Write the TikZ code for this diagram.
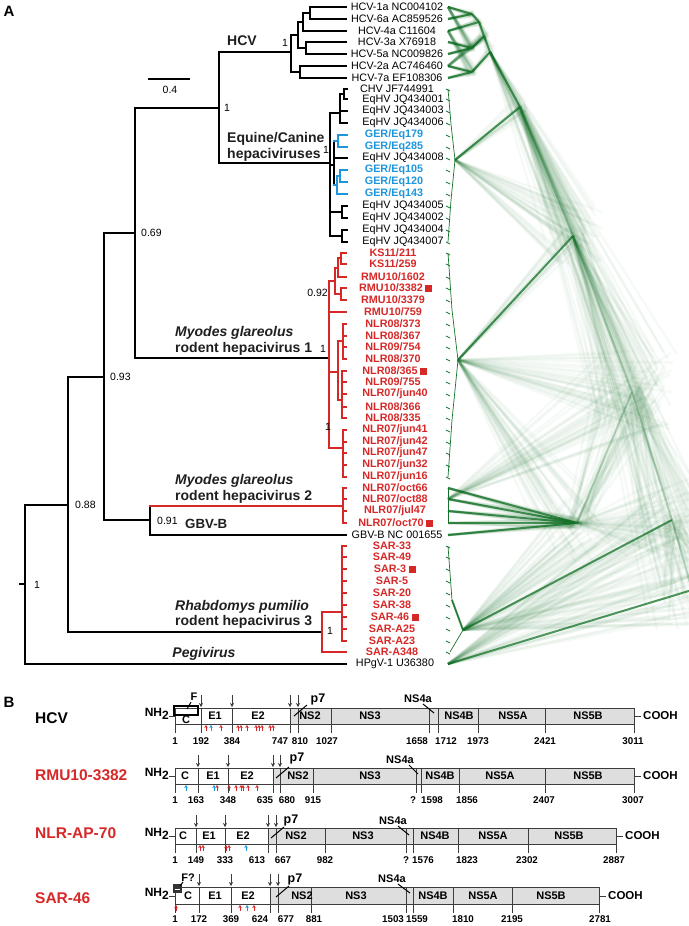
\documentclass[tikz,border=0pt]{standalone}
\usepackage{fontspec}
\setmainfont{Liberation Sans}
\usetikzlibrary{calc,arrows.meta}
\definecolor{hred}{RGB}{215,40,40}
\definecolor{hblue}{RGB}{30,150,220}
\definecolor{hgreen}{RGB}{20,115,40}
\definecolor{boxgray}{RGB}{222,222,222}
\definecolor{lgray}{RGB}{60,60,60}
\newcommand\fs[1]{\fontsize{#1}{#1}\selectfont}
\newcommand\gedge[3]{\draw[gmain] (#1)--(#2);\foreach \k in {1,...,16}{\pgfmathsetmacro\ja{#3*rand}\pgfmathsetmacro\jb{#3*rand}\draw[gfuzz] (#1)--($(#2)+(\ja,\jb)$);}}
\newcommand\gdeep[3]{\draw[gmain, opacity=0.3] (#1)--(#2);\foreach \k in {1,...,40}{\pgfmathsetmacro\ja{#3*rand}\pgfmathsetmacro\jb{#3*rand}\pgfmathsetmacro\jc{#3*0.3*rand}\pgfmathsetmacro\jd{#3*0.3*rand}\draw[gfuzz] ($(#1)+(\jc,\jd)$)--($(#2)+(\ja,\jb)$);}}
\newcommand\galt[3]{\foreach \k in {1,...,32}{\pgfmathsetmacro\ja{#3*rand}\pgfmathsetmacro\jb{#3*rand}\draw[gfuzz] (#1)--($(#2)+(\ja,\jb)$);}}
\tikzset{
 tb/.style={line width=1.8pt, line cap=rect, draw=black},
 tr/.style={line width=1.8pt, line cap=rect, draw=hred},
 tbl/.style={line width=1.8pt, line cap=rect, draw=hblue},
 gmain/.style={draw=hgreen, line width=2pt, opacity=0.75},
 gfuzz/.style={draw=hgreen, line width=2.4pt, opacity=0.035},
 gthin/.style={draw=hgreen, line width=0.7pt},
 tipk/.style={font=\fs{10.8}, text=black, inner sep=0},
 tipr/.style={font=\bfseries\fs{10.8}, text=hred, inner sep=0},
 tipb/.style={font=\bfseries\fs{10.8}, text=hblue, inner sep=0},
 sqr/.style={fill=hred, minimum size=7pt, inner sep=0, anchor=west},
 sup/.style={font=\fs{10.5}, inner sep=0},
 clab/.style={font=\bfseries\fs{14}, anchor=west, inner sep=0, text=black!88},
 clabi/.style={font=\bfseries\itshape\fs{14}, anchor=west, inner sep=0, text=black!88},
 panel/.style={font=\bfseries\fs{15}, inner sep=0},
 bx/.style={draw=lgray, line width=0.9pt},
 darr/.style={draw=lgray, line width=1pt, -{Stealth[length=4pt,width=4pt]}},
 rarr/.style={draw=hred, line width=0.8pt, -{Stealth[length=3pt,width=3.5pt]}},
 barr/.style={draw=hblue, line width=0.8pt, -{Stealth[length=3pt,width=3.5pt]}},
 num/.style={font=\bfseries\fs{9.8}, inner sep=0},
 seg/.style={font=\bfseries\fs{11}, inner sep=0},
 rowlab/.style={font=\bfseries\fs{15.5}, anchor=west, inner sep=0},
 nh/.style={font=\bfseries\fs{12}, anchor=east, inner sep=0},
 cooh/.style={font=\bfseries\fs{11.5}, anchor=west, inner sep=0},
}
\begin{document}
\begin{tikzpicture}[x=1pt,y=-1pt]
\useasboundingbox (0,0) rectangle (688,926);
\fill[white] (0,0) rectangle (688,926);
\pgfmathsetseed{7}
% ---------------- green cloud ----------------
\coordinate (c1) at (448,7); \coordinate (c2) at (448,19); \coordinate (c3) at (448,31);
\coordinate (c4) at (448,42); \coordinate (c5) at (448,54); \coordinate (c6) at (448,66);
\coordinate (c7) at (448,78);
\coordinate (h16) at (472,14); \coordinate (h164) at (479,22); \coordinate (h35) at (472,48);
\coordinate (h27) at (472,72); \coordinate (hA) at (484,36); \coordinate (hR) at (490,52);
\coordinate (eq) at (455,160); \coordinate (m1) at (458,360);
\coordinate (t42) at (448,488); \coordinate (t43) at (448,499); \coordinate (t44) at (448,511); \coordinate (t45) at (448,523);
\coordinate (gb) at (448,535); \coordinate (sar) at (463,630); \coordinate (hp) at (448,664);
\coordinate (e1) at (520,107); \coordinate (e2) at (573,236); \coordinate (g) at (577,523);
\coordinate (e3) at (632,392); \coordinate (e4) at (672,520); \coordinate (rt) at (692,590);
\gedge{c1}{h16}{3}\gedge{c2}{h16}{3}\gedge{c3}{h164}{3}\gedge{c4}{h35}{3}\gedge{c5}{h35}{3}
\gedge{c6}{h27}{3}\gedge{c7}{h27}{3}
\gedge{h16}{h164}{4}\gedge{h164}{hA}{5}\gedge{h35}{hA}{5}\gedge{hA}{hR}{5}\gedge{h27}{hR}{5}
\galt{c1}{h35}{4}\galt{c6}{hA}{4}\galt{c3}{h27}{5}
\gedge{hR}{e1}{8}\gedge{eq}{e1}{8}
\gdeep{e1}{e2}{16}\gedge{m1}{e2}{10}
\gedge{t42}{g}{6}\gedge{t43}{g}{6}\gedge{t44}{g}{6}\gedge{t45}{g}{6}\gedge{gb}{g}{6}
\gdeep{e2}{e3}{34}\gdeep{g}{e3}{34}
\gdeep{e3}{e4}{34}\gedge{sar}{e4}{30}
\gdeep{e4}{rt}{30}\gedge{hp}{rt}{25}
\galt{m1}{e3}{45}\galt{e1}{e3}{45}\galt{sar}{rt}{35}\galt{g}{e4}{45}
\galt{sar}{g}{25}\galt{t43}{e3}{40}\galt{e2}{rt}{45}\galt{hp}{e4}{35}
\galt{m1}{g}{40}\galt{eq}{e2}{30}\galt{hR}{e2}{30}
\draw[gthin] (448,89)--(451,124)--(455,160)--(451,200)--(448,242);
\foreach \y in {89,99,111,123,135,147,158,170,182,194,206,218,230,242} \draw[gthin] (446,\y)--(450,\y+2);
\draw[gthin] (448,253)--(452,310)--(458,360)--(452,420)--(448,477);
\foreach \y in {253,264,277,288,300,312,324,336,347,359,371,382,394,407,418,430,442,453,465,477} \draw[gthin] (446,\y)--(450,\y+2);
\draw[gthin] (448,488)--(448,523);
\draw[gthin] (448,546)--(452,600)--(463,630)--(450,652);
\draw[gmain] (452,600)--(463,630);
\foreach \y in {546,557,569,581,593,605,617,629,641,652} \draw[gthin] (446,\y)--(450,\y+2);
% ---------------- panel A tree ----------------
\node[panel] (pA) at (9,11) {A};
% scale bar
\draw[line width=1.8pt] (148,79)--(190,79);
\node[sup] (sb) at (170,90) {0.4};
% backbone
\draw[tb] (20,584)--(25,584);
\draw[tb] (25,505)--(25,664);
\draw[tb] (25,664)--(346,664);
\draw[tb] (25,505)--(68,505);
\draw[tb] (68,377)--(68,632);
\draw[tb] (68,632)--(322,632);
\draw[tb] (68,377)--(104,377);
\draw[tb] (104,233)--(104,520);
\draw[tb] (104,520)--(150,520);
\draw[tb] (150,506)--(150,535);
\draw[tb] (150,535)--(346,535);
\draw[tb] (104,233)--(135,233);
\draw[tb] (135,108)--(135,358);
\draw[tb] (135,108)--(219,108);
\draw[tb] (219,52)--(219,163);
\draw[tb] (219,52)--(291,52);
\draw[tb] (219,163)--(330,163);
\draw[tb] (135,358)--(329,358);
% HCV subtree
\draw[tb] (291,35)--(291,72);
\draw[tb] (291,35)--(298,35); \draw[tb] (298,22)--(298,48);
\draw[tb] (298,22)--(303,22); \draw[tb] (303,13)--(303,31);
\draw[tb] (303,13)--(310,13); \draw[tb] (310,7)--(310,19);
\draw[tb] (310,7)--(346,7); \draw[tb] (310,19)--(346,19); \draw[tb] (303,31)--(346,31);
\draw[tb] (298,48)--(306,48); \draw[tb] (306,42)--(306,54);
\draw[tb] (306,42)--(346,42); \draw[tb] (306,54)--(346,54);
\draw[tb] (291,72)--(300,72); \draw[tb] (300,66)--(300,78);
\draw[tb] (300,66)--(346,66); \draw[tb] (300,78)--(346,78);
% Equine subtree
\draw[tb] (330,113)--(330,236);
\draw[tb] (330,113)--(340,113); \draw[tb] (340,94)--(340,123);
\draw[tb] (340,94)--(344,94); \draw[tb] (344,89)--(344,99);
\draw[tb] (344,89)--(347,89); \draw[tb] (344,99)--(347,99);
\draw[tb] (340,111)--(347,111); \draw[tb] (340,123)--(347,123);
\draw[tb] (330,165)--(334,165); \draw[tb] (334,141)--(334,185);
\draw[tbl] (334,141)--(338,141); \draw[tbl] (338,135)--(338,147);
\draw[tbl] (338,135)--(347,135); \draw[tbl] (338,147)--(347,147);
\draw[tb] (334,158)--(347,158);
\draw[tbl] (334,185)--(337,185); \draw[tbl] (337,176)--(337,194);
\draw[tbl] (337,176)--(340,176); \draw[tbl] (340,170)--(340,182);
\draw[tbl] (340,170)--(347,170); \draw[tbl] (340,182)--(347,182);
\draw[tbl] (337,194)--(347,194);
\draw[tb] (330,212)--(342,212); \draw[tb] (342,206)--(342,218);
\draw[tb] (342,206)--(347,206); \draw[tb] (342,218)--(347,218);
\draw[tb] (330,236)--(342,236); \draw[tb] (342,230)--(342,242);
\draw[tb] (342,230)--(347,230); \draw[tb] (342,242)--(347,242);
% MGRHV1
\draw[tr] (329,281)--(329,448);
\draw[tr] (329,281)--(335,281); \draw[tr] (335,268)--(335,294);
\draw[tr] (335,268)--(338,268); \draw[tr] (338,258)--(338,277);
\draw[tr] (338,258)--(341,258); \draw[tr] (341,253)--(341,264);
\draw[tr] (341,253)--(346,253); \draw[tr] (341,264)--(346,264);
\draw[tr] (338,277)--(346,277);
\draw[tr] (335,294)--(341,294); \draw[tr] (341,288)--(341,300);
\draw[tr] (341,288)--(346,288); \draw[tr] (341,300)--(346,300);
\draw[tr] (329,312)--(346,312);
\draw[tr] (329,372)--(338,372); \draw[tr] (338,341)--(338,400);
\draw[tr] (338,341)--(343,341); \draw[tr] (343,324)--(343,359);
\foreach \y in {324,336,347,359} \draw[tr] (343,\y)--(346,\y);
\draw[tr] (338,400)--(342,400); \draw[tr] (342,371)--(342,418);
\foreach \y in {371,382,394,407,418} \draw[tr] (342,\y)--(346,\y);
\draw[tr] (329,448)--(343,448); \draw[tr] (343,430)--(343,477);
\foreach \y in {430,442,453,465,477} \draw[tr] (343,\y)--(346,\y);
% MGRHV2
\draw[tr] (150,506)--(343,506); \draw[tr] (343,488)--(343,523);
\foreach \y in {488,499,511,523} \draw[tr] (343,\y)--(346,\y);
% SAR
\draw[tr] (322,612)--(322,652);
\draw[tr] (322,612)--(342,612); \draw[tr] (342,546)--(342,641);
\foreach \y in {546,557,569,581,593,605,617,629,641} \draw[tr] (342,\y)--(346,\y);
\draw[tr] (322,652)--(346,652);
% support values
\node[sup] (s1) at (285,43) {1};
\node[sup, anchor=west] (s2) at (224,108) {1};
\node[sup, anchor=west] (s3) at (323,150) {1};
\node[sup, anchor=west] (s4) at (141,233) {0.69};
\node[sup, anchor=east] (s5) at (328,293) {0.92};
\node[sup] (s6) at (323,349) {1};
\node[sup] (s7) at (328,427) {1};
\node[sup, anchor=west] (s8) at (110,377) {0.93};
\node[sup, anchor=west] (s9) at (75,505) {0.88};
\node[sup, anchor=west] (s10) at (157,521) {0.91};
\node[sup] (s11) at (37,585) {1};
\node[sup] (s12) at (330,631) {1};
% clade labels
\node[clab] (lHCV) at (227,41) {HCV};
\node[clab] (lEq1) at (227,139) {Equine/Canine};
\node[clab] (lEq2) at (227,155) {hepaciviruses};
\node[clabi] (lM1a) at (175,333) {Myodes glareolus};
\node[clab] (lM1b) at (175,349) {rodent hepacivirus 1};
\node[clabi] (lM2a) at (175,481) {Myodes glareolus};
\node[clab] (lM2b) at (175,497) {rodent hepacivirus 2};
\node[clab, font=\bfseries\fs{13.3}] (lGB) at (185,524) {GBV-B};
\node[clabi] (lR3a) at (175,607) {Rhabdomys pumilio};
\node[clab] (lR3b) at (175,622) {rodent hepacivirus 3};
\node[clabi, anchor=center] (lPeg) at (204,654) {Pegivirus};
% tip labels
\node[tipk] (l1) at (397,7) {HCV-1a NC004102};
\node[tipk] (l2) at (397,19) {HCV-6a AC859526};
\node[tipk] (l3) at (397,31) {HCV-4a C11604};
\node[tipk] (l4) at (397,42) {HCV-3a X76918};
\node[tipk] (l5) at (397,54) {HCV-5a NC009826};
\node[tipk] (l6) at (397,66) {HCV-2a AC746460};
\node[tipk] (l7) at (397,78) {HCV-7a EF108306};
\node[tipk] (l8) at (397,89) {CHV JF744991};
\node[tipk] (l9) at (403,100) {EqHV JQ434001};
\node[tipk] (l10) at (403,111) {EqHV JQ434003};
\node[tipk] (l11) at (403,123) {EqHV JQ434006};
\node[tipb] (l12) at (394,135) {GER/Eq179};
\node[tipb] (l13) at (394,147) {GER/Eq285};
\node[tipk] (l14) at (403,158) {EqHV JQ434008};
\node[tipb] (l15) at (394,170) {GER/Eq105};
\node[tipb] (l16) at (394,182) {GER/Eq120};
\node[tipb] (l17) at (394,194) {GER/Eq143};
\node[tipk] (l18) at (403,206) {EqHV JQ434005};
\node[tipk] (l19) at (403,218) {EqHV JQ434002};
\node[tipk] (l20) at (403,230) {EqHV JQ434004};
\node[tipk] (l21) at (403,242) {EqHV JQ434007};
\node[tipr] (l22) at (393,253) {KS11/211};
\node[tipr] (l23) at (393,264) {KS11/259};
\node[tipr] (l24) at (393,277) {RMU10/1602};
\node[tipr] (l25) at (391,288) {RMU10/3382};
\node[tipr] (l26) at (393,300) {RMU10/3379};
\node[tipr] (l27) at (393,312) {RMU10/759};
\node[tipr] (l28) at (393,324) {NLR08/373};
\node[tipr] (l29) at (393,336) {NLR08/367};
\node[tipr] (l30) at (393,347) {NLR09/754};
\node[tipr] (l31) at (393,359) {NLR08/370};
\node[tipr] (l32) at (390,371) {NLR08/365};
\node[tipr] (l33) at (393,382) {NLR09/755};
\node[tipr] (l34) at (395,394) {NLR07/jun40};
\node[tipr] (l35) at (393,407) {NLR08/366};
\node[tipr] (l36) at (393,418) {NLR08/335};
\node[tipr] (l37) at (395,430) {NLR07/jun41};
\node[tipr] (l38) at (395,442) {NLR07/jun42};
\node[tipr] (l39) at (395,453) {NLR07/jun47};
\node[tipr] (l40) at (395,465) {NLR07/jun32};
\node[tipr] (l41) at (395,477) {NLR07/jun16};
\node[tipr] (l42) at (395,488) {NLR07/oct66};
\node[tipr] (l43) at (395,499) {NLR07/oct88};
\node[tipr] (l44) at (395,511) {NLR07/jul47};
\node[tipr] (l45) at (391,523) {NLR07/oct70};
\node[tipk] (l46) at (397,535) {GBV-B NC 001655};
\node[tipr] (l47) at (392,546) {SAR-33};
\node[tipr] (l48) at (392,557) {SAR-49};
\node[tipr] (l49) at (390,569) {SAR-3};
\node[tipr] (l50) at (392,581) {SAR-5};
\node[tipr] (l51) at (392,593) {SAR-20};
\node[tipr] (l52) at (392,605) {SAR-38};
\node[tipr] (l53) at (390,617) {SAR-46};
\node[tipr] (l54) at (392,629) {SAR-A25};
\node[tipr] (l55) at (392,641) {SAR-A23};
\node[tipr] (l56) at (392,652) {SAR-A348};
\node[tipk] (l57) at (395,664) {HPgV-1 U36380};
\node[sqr] (q1) at ([xshift=2pt]l25.east) {};
\node[sqr] (q2) at ([xshift=2pt]l32.east) {};
\node[sqr] (q3) at ([xshift=2pt]l45.east) {};
\node[sqr] (q4) at ([xshift=2pt]l49.east) {};
\node[sqr] (q5) at ([xshift=2pt]l53.east) {};
% ---------------- panel B ----------------
\node[panel] (pB) at (9,702) {B};
% ===== HCV row =====
\node[rowlab] (r1) at (35,718) {HCV};
\node[nh] (nh1) at (169,714) {NH\raisebox{-3.5pt}{2}};
\draw[bx] (169,716)--(175,716);
\fill[boxgray] (290,708) rectangle (634,724);
\draw[bx] (175,708) rectangle (634,724);
\foreach \x in {201,232,290,298,331,429,438,478,545} \draw[bx] (\x,708)--(\x,724);
\foreach \x in {175,201,232,290,298,331,429,438,478,545,634} \draw[bx] (\x,724)--(\x,733);
\foreach \x/\t in {175/1,201/192,232/384,280/747,300/810,327/1027,417/1658,446/1712,478/1973,545/2421,633/3011} \node[num] at (\x,741) {\t};
\foreach \x in {201,232,290,298} \draw[darr] (\x,695)--(\x,707);
\foreach \x/\t in {215/E1,258/E2,310/NS2,370/NS3,459/NS4B,513/NS5A,588/NS5B} \node[seg] at (\x,716) {\t};
\node[seg] (c1l) at (186,720) {C};
\draw[line width=1.8pt] (174,706) rectangle (198,715);
\node[seg] (f1) at (194,697) {F};
\draw[line width=1pt] (191,702)--(187,709);
\node[seg] (n4a1) at (418,699) {NS4a};
\draw[line width=1pt] (423,704)--(434,713);
\node[seg, font=\bfseries\fs{12.5}] (p71) at (318,699) {p7};
\draw[line width=1pt] (294,716)--(307,705);
\foreach \x in {206,221,238,241,247,256,259,262,270,273} \draw[rarr] (\x,731)--(\x,725);
\draw[barr] (211,731)--(211,725);
\draw[bx] (635,716)--(641,716); \node[cooh] (co1) at (643,716) {COOH};
% ===== RMU row =====
\node[rowlab, text=hred] (r2) at (35,775) {RMU10-3382};
\node[nh] (nh2) at (169,774) {NH\raisebox{-3.5pt}{2}};
\draw[bx] (169,776)--(175,776);
\fill[boxgray] (273,768) rectangle (634,784);
\draw[bx] (175,768) rectangle (634,784);
\foreach \x in {198,228,273,280,313,416,421,459,545} \draw[bx] (\x,768)--(\x,784);
\foreach \x in {175,198,228,273,280,313,416,421,459,545,634} \draw[bx] (\x,784)--(\x,793);
\foreach \x/\t in {175/1,196/163,228/348,265/635,287/680,313/915,413/?,432/1598,467/1856,544/2407,633/3007} \node[num] at (\x,800) {\t};
\foreach \x in {198,228,273,280} \draw[darr] (\x,755)--(\x,767);
\foreach \x/\t in {185/C,213/E1,247/E2,298/NS2,370/NS3,440/NS4B,500/NS5A,588/NS5B} \node[seg] at (\x,776) {\t};
\node[seg] (n4a2) at (400,760) {NS4a};
\draw[line width=1pt] (409,765)--(418,774);
\node[seg, font=\bfseries\fs{12.5}] (p72) at (297,758) {p7};
\draw[line width=1pt] (276,778)--(289,767);
\foreach \x in {217,229,236,241,243,248,257} \draw[rarr] (\x,791)--(\x,785);
\foreach \x in {186,214} \draw[barr] (\x,791)--(\x,785);
\draw[bx] (635,776)--(641,776); \node[cooh] (co2) at (643,776) {COOH};
% ===== NLR row =====
\node[rowlab, text=hred] (r3) at (35,833) {NLR-AP-70};
\node[nh] (nh3) at (169,834) {NH\raisebox{-3.5pt}{2}};
\draw[bx] (169,836)--(175,836);
\fill[boxgray] (268,828) rectangle (616,844);
\draw[bx] (175,828) rectangle (616,844);
\foreach \x in {196,225,268,276,325,406,413,458,528} \draw[bx] (\x,828)--(\x,844);
\foreach \x in {175,196,225,268,276,325,406,413,458,528,616} \draw[bx] (\x,844)--(\x,853);
\foreach \x/\t in {175/1,196/149,225/333,257/613,283/667,325/982,406/?,423/1576,467/1823,527/2302,614/2887} \node[num] at (\x,860) {\t};
\foreach \x in {196,225,268,276} \draw[darr] (\x,815)--(\x,827);
\foreach \x/\t in {183/C,209/E1,243/E2,296/NS2,363/NS3,435/NS4B,493/NS5A,569/NS5B} \node[seg] at (\x,836) {\t};
\node[seg] (n4a3) at (393,821) {NS4a};
\draw[line width=1pt] (398,826)--(409,835);
\node[seg, font=\bfseries\fs{12.5}] (p73) at (291,820) {p7};
\draw[line width=1pt] (271,838)--(284,827);
\foreach \x in {200,203,226,229} \draw[rarr] (\x,851)--(\x,845);
\draw[barr] (246,851)--(246,845);
\draw[bx] (617,836)--(623,836); \node[cooh] (co3) at (625,836) {COOH};
% ===== SAR row =====
\node[rowlab, text=hred] (r4) at (35,898) {SAR-46};
\node[nh] (nh4) at (169,894) {NH\raisebox{-3.5pt}{2}};
\draw[bx] (169,896)--(175,896);
\fill[boxgray] (270,887) rectangle (599,904);
\draw[bx] (175,887) rectangle (599,904);
\foreach \x in {199,231,270,278,311,406,413,453,512} \draw[bx] (\x,887)--(\x,904);
\foreach \x in {175,199,231,270,278,311,406,413,453,512,599} \draw[bx] (\x,904)--(\x,913);
\foreach \x/\t in {175/1,199/172,231/369,260/624,286/677,314/881,393/1503,417/1559,463/1810,512/2195,600/2781} \node[num] at (\x,919) {\t};
\foreach \x in {199,231,270,278} \draw[darr] (\x,874)--(\x,886);
\foreach \x/\t in {188/C,215/E1,248/E2,302/NS2,356/NS3,433/NS4B,483/NS5A,551/NS5B} \node[seg] at (\x,896) {\t};
\fill[black!80] (173,884) rectangle (182,893);
\draw[white, line width=0.8pt] (175,889)--(180,889);
\node[seg] (f4) at (188,878) {F?};
\draw[line width=1pt] (183,882)--(180,886);
\node[seg] (n4a4) at (392,879) {NS4a};
\draw[line width=1pt] (398,884)--(410,893);
\node[seg, font=\bfseries\fs{12.5}] (p74) at (295,879) {p7};
\draw[line width=1pt] (276,897)--(289,886);
\foreach \x in {176,240,254} \draw[rarr] (\x,911)--(\x,905);
\draw[barr] (247,911)--(247,905);
\draw[bx] (600,896)--(606,896); \node[cooh] (co4) at (608,896) {COOH};
\end{tikzpicture}
\end{document}
